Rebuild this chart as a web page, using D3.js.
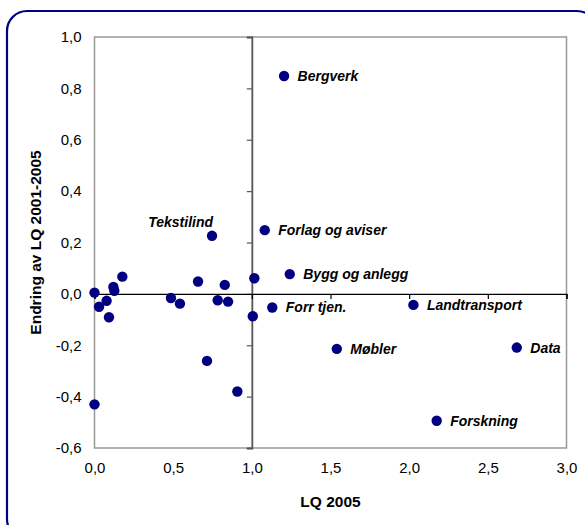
<!DOCTYPE html>
<html>
<head>
<meta charset="utf-8">
<script src="https://cdn.jsdelivr.net/npm/d3@7"></script>
<style>
  html, body { margin: 0; padding: 0; background: #fff; }
  svg { display: block; }
  text { font-family: "Liberation Sans", Arial, sans-serif; }
</style>
</head>
<body>
<svg id="chart" width="585" height="525"></svg>
<script>
// ---- data ----
const lq2005 = [0.0, 0.029, 0.077, 0.092, 0.12, 0.126, 0.177, 0.486, 0.543, 0.658, 0.747, 0.783, 0.828, 0.849, 1.016, 1.006, 1.082, 1.13, 1.241, 0.715, 0.908, 0.0, 1.205, 2.027, 1.54, 2.684, 2.175];
const endring = [0.005, -0.05, -0.027, -0.091, 0.027, 0.012, 0.067, -0.016, -0.038, 0.048, 0.226, -0.025, 0.035, -0.03, 0.061, -0.087, 0.248, -0.053, 0.077, -0.261, -0.38, -0.43, 0.848, -0.043, -0.214, -0.209, -0.494];
const pointLabels = ["", "", "", "", "", "", "", "", "", "", "Tekstilind", "", "", "", "", "", "Forlag og aviser", "Forr tjen.", "Bygg og anlegg", "", "", "", "Bergverk", "Landtransport", "Møbler", "Data", "Forskning"];
const xTicks = [0, 0.5, 1.0, 1.5, 2.0, 2.5, 3.0];
const xTickLabels = ["0,0", "0,5", "1,0", "1,5", "2,0", "2,5", "3,0"];
const yTicks = [-0.6, -0.4, -0.2, 0.0, 0.2, 0.4, 0.6, 0.8, 1.0];
const yTickLabels = ["-0,6", "-0,4", "-0,2", "0,0", "0,2", "0,4", "0,6", "0,8", "1,0"];
const xTitle = "LQ 2005";
const yTitle = "Endring av LQ 2001-2005";

const points = lq2005.map((v, i) => ({ x: v, y: endring[i], label: pointLabels[i] }));

// ---- layout ----
const svg = d3.select("#chart");
const pL = 94.5, pR = 566.5, pT = 37, pB = 448;
const navy = "#000080";

const x = d3.scaleLinear().domain([0, 3]).range([pL, pR]);
const y = d3.scaleLinear().domain([-0.6, 1.0]).range([pB, pT]);

// outer rounded frame
svg.append("rect")
  .attr("x", 7).attr("y", 11).attr("width", 590).attr("height", 528)
  .attr("rx", 20).attr("ry", 20)
  .attr("fill", "#fff").attr("stroke", navy).attr("stroke-width", 2.2);

// plot area border
svg.append("rect")
  .attr("x", pL).attr("y", pT).attr("width", pR - pL).attr("height", pB - pT)
  .attr("fill", "#fff").attr("stroke", "#999").attr("stroke-width", 1.5);

// vertical axis at x = 1 (ticks only)
const yAxisG = svg.append("g")
  .attr("transform", `translate(${x(1)},0)`)
  .call(d3.axisLeft(y).tickValues(yTicks).tickSize(5).tickFormat(""));
yAxisG.select(".domain").attr("stroke", "#555").attr("stroke-width", 1.8);
yAxisG.selectAll(".tick line").attr("stroke", "#555").attr("stroke-width", 1.2);

// horizontal axis at y = 0 (ticks only)
const xAxisG = svg.append("g")
  .attr("transform", `translate(0,${y(0)})`)
  .call(d3.axisBottom(x).tickValues(xTicks).tickSize(5).tickFormat(""));
xAxisG.select(".domain").attr("stroke", "#000").attr("stroke-width", 1.3);
xAxisG.selectAll(".tick line").attr("stroke", "#000").attr("stroke-width", 1.2);

// y tick labels (low position)
const yLab = svg.append("g")
  .attr("transform", `translate(${pL},0)`)
  .call(d3.axisLeft(y).tickValues(yTicks).tickSize(0).tickPadding(13)
    .tickFormat((d, i) => yTickLabels[i]));
yLab.select(".domain").remove();
yLab.selectAll("text").attr("font-size", 15).attr("fill", "#000")
  .attr("font-family", "'Liberation Sans', Arial, sans-serif");

// x tick labels (low position)
const xLab = svg.append("g")
  .attr("transform", `translate(0,${pB})`)
  .call(d3.axisBottom(x).tickValues(xTicks).tickSize(0).tickPadding(14)
    .tickFormat((d, i) => xTickLabels[i]));
xLab.select(".domain").remove();
xLab.selectAll("text").attr("font-size", 15).attr("fill", "#000")
  .attr("font-family", "'Liberation Sans', Arial, sans-serif");

// axis titles
svg.append("text")
  .attr("x", (pL + pR) / 2).attr("y", 507)
  .attr("text-anchor", "middle").attr("font-size", 15.5).attr("font-weight", "bold")
  .text(xTitle);
svg.append("text")
  .attr("transform", `translate(41,${(pT + pB) / 2}) rotate(-90)`)
  .attr("text-anchor", "middle").attr("font-size", 15.5).attr("font-weight", "bold")
  .text(yTitle);

// points
svg.append("g").selectAll("circle")
  .data(points).join("circle")
  .attr("cx", d => x(d.x)).attr("cy", d => y(d.y))
  .attr("r", 5.2).attr("fill", navy);

// point labels
svg.append("g").selectAll("text")
  .data(points.filter(d => d.label))
  .join("text")
  .attr("x", d => d.label === "Tekstilind" ? x(d.x) + 1 : x(d.x) + 13.5)
  .attr("y", d => d.label === "Tekstilind" ? y(d.y) - 9 : y(d.y) + 5)
  .attr("text-anchor", d => d.label === "Tekstilind" ? "end" : "start")
  .attr("font-size", 14).attr("font-weight", "bold").attr("font-style", "italic")
  .attr("fill", "#000")
  .text(d => d.label);
</script>
</body>
</html>
